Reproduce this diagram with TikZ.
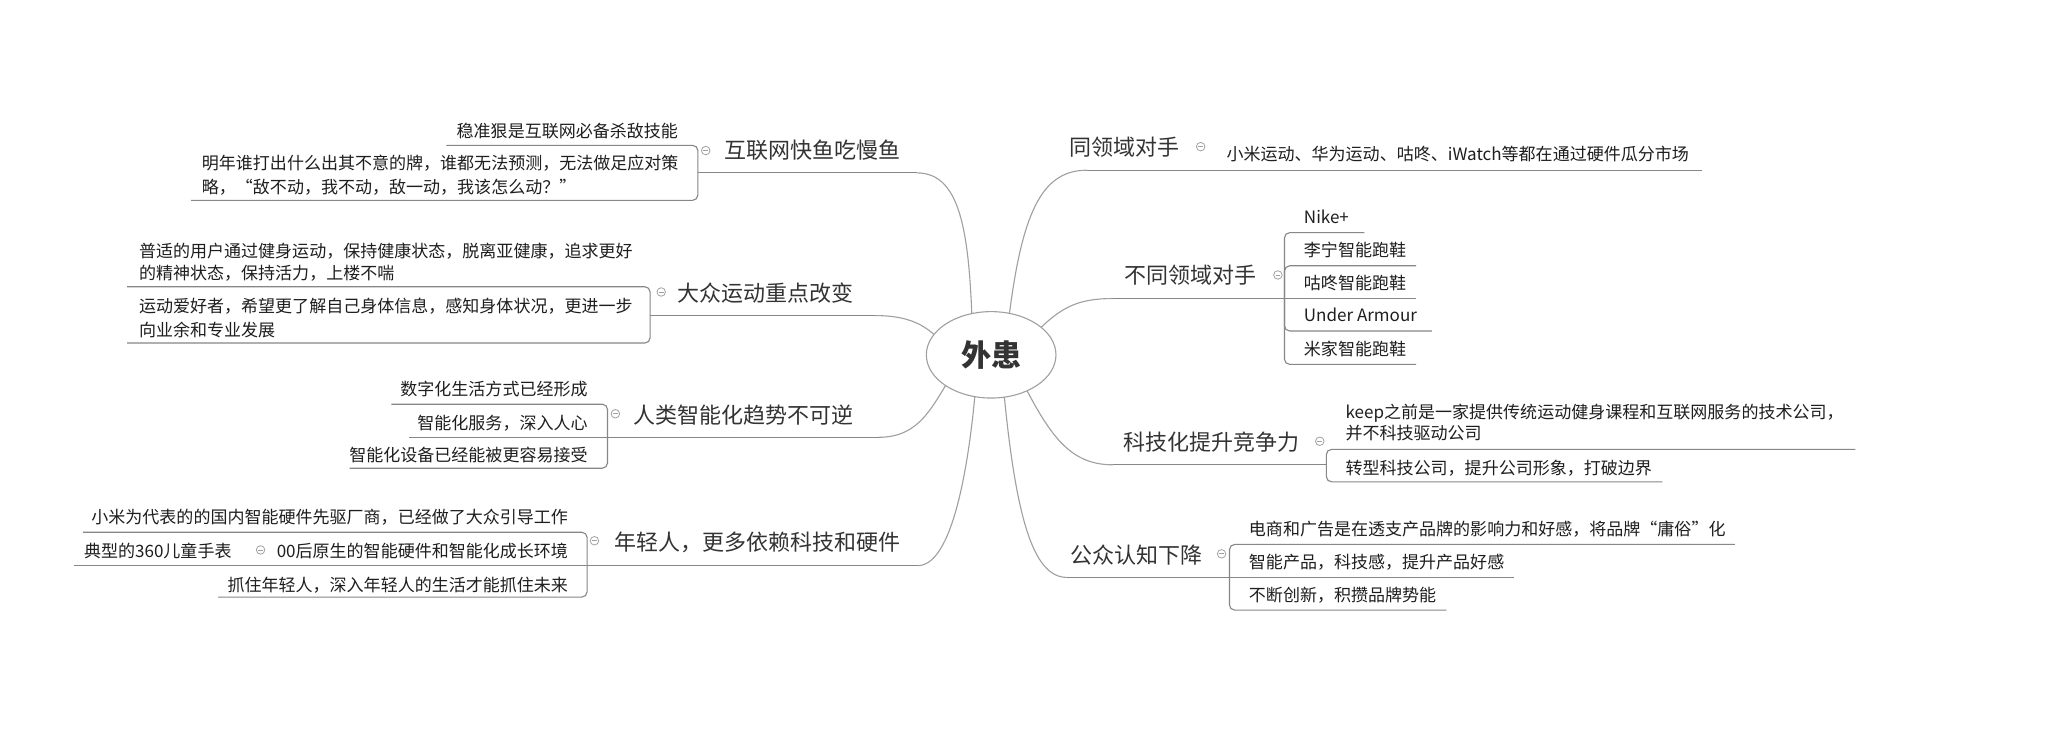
\documentclass[tikz,border=0pt]{standalone}
\usepackage{fontspec}
\setmainfont{Noto Sans CJK SC}
\usetikzlibrary{shapes.geometric}
\definecolor{linegray}{HTML}{878787}
\definecolor{curvegray}{HTML}{A0A0A0}
\definecolor{maintext}{HTML}{333333}
\definecolor{leaftext}{HTML}{1E1E1E}
\definecolor{foldgray}{HTML}{A0A0A0}
\tikzset{
 conn/.style={draw=linegray, line width=0.85pt},
 curv/.style={draw=curvegray, line width=0.85pt},
 brk/.style={conn, rounded corners=4pt},
 maintopic/.style={font=\fontsize{16.8}{20}\selectfont, text=maintext, inner sep=0pt, text height=14.8pt, text depth=2pt},
 leaf/.style={font=\fontsize{13}{16}\selectfont, text=leaftext, inner sep=0pt, text height=11.44pt, text depth=1.56pt},
 fold/.style={circle, draw=foldgray, line width=0.6pt, minimum size=6.5pt, inner sep=0pt, fill=white,
   path picture={\draw[foldgray, line width=0.6pt] ([xshift=-1.8pt]path picture bounding box.center) -- ([xshift=1.8pt]path picture bounding box.center);}},
 centre/.style={ellipse, draw=curvegray, line width=0.85pt, fill=white, minimum width=99pt, minimum height=66pt, inner sep=0pt,
   font=\fontsize{23}{27}\selectfont\bfseries, text=maintext},
}
\begin{document}
\begin{tikzpicture}[x=1pt,y=-1pt]
\useasboundingbox (0,0) rectangle (1568,571);
\fill[white] (0,0) rectangle (1568,571);

% ---- curve end points
\coordinate (r1) at (830,130);
\coordinate (r2) at (850,228);
\coordinate (r3) at (850,355);
\coordinate (r4) at (815,441);
\coordinate (l5) at (700,132);
\coordinate (l6) at (668,241);
\coordinate (l7) at (671,334);
\coordinate (l8) at (701,432);

% ---- curves from the central topic
\draw[curv] (768,265) .. controls (778,170) and (792,130) .. (r1);
\draw[curv] (780,265) .. controls (805,240) and (815,228) .. (r2);
\draw[curv] (775,280) .. controls (800,330) and (815,355) .. (r3);
\draw[curv] (765,280) .. controls (775,400) and (790,441) .. (r4);
\draw[curv] (743,265) .. controls (741,180) and (735,132) .. (l5);
\draw[curv] (725,268) .. controls (712,252) and (700,241) .. (l6);
\draw[curv] (728,285) .. controls (712,310) and (703,334) .. (l7);
\draw[curv] (746,285) .. controls (742,340) and (730,432) .. (l8);

\node[centre] (ctr) at (757,271) {外患};

% ================= right side =================
% 同领域对手
\node[maintopic] (t1) at (859,112) {同领域对手};
\node[fold] (f1) at (917,112) {};
\node[leaf, anchor=west] (t1a) at (936.6,118) {小米运动、华为运动、咕咚、iWatch等都在通过硬件瓜分市场};
\coordinate (r1e) at (1300,130);
\draw[conn] (r1) -- (r1e);

% 不同领域对手
\node[maintopic] (t2) at (909,210) {不同领域对手};
\node[fold] (f2) at (976,210) {};
\coordinate (b2) at (981,228);
\draw[conn] (r2) -- (b2);
\node[leaf, anchor=west] (t2a) at (995.7,165.5) {Nike+};
\node[leaf, anchor=west] (t2b) at (995.7,191) {李宁智能跑鞋};
\node[leaf, anchor=west] (t2c) at (995.7,216.4) {咕咚智能跑鞋};
\node[leaf, anchor=west] (t2d) at (995.7,240.6) {Under Armour};
\node[leaf, anchor=west] (t2e) at (995.7,266.8) {米家智能跑鞋};
\draw[brk] (b2) -- (981,177.7) -- (1042,177.7);
\draw[brk] (b2) -- (981,203) -- (1081.6,203);
\draw[conn] (b2) -- (1081.6,228);
\draw[brk] (b2) -- (981,252.8) -- (1093.5,252.8);
\draw[brk] (b2) -- (981,278.3) -- (1081.6,278.3);

% 科技化提升竞争力
\node[maintopic] (t3) at (925,338) {科技化提升竞争力};
\node[fold] (f3) at (1008,337) {};
\coordinate (b3) at (1013,355);
\draw[conn] (r3) -- (b3);
\node[leaf, anchor=west] (t3a1) at (1027.5,314.4) {keep之前是一家提供传统运动健身课程和互联网服务的技术公司，};
\node[leaf, anchor=west] (t3a2) at (1027.5,331) {并不科技驱动公司};
\node[leaf, anchor=west] (t3b) at (1027.5,357.7) {转型科技公司，提升公司形象，打破边界};
\draw[brk] (b3) -- (1013,343.2) -- (1417,343.2);
\draw[brk] (b3) -- (1013,368) -- (1269.6,368);

% 公众认知下降
\node[maintopic] (t4) at (868,424) {公众认知下降};
\node[fold] (f4) at (933,423) {};
\coordinate (b4) at (939,441);
\draw[conn] (r4) -- (b4);
\node[leaf, anchor=west] (t4a) at (953.7,404.3) {电商和广告是在透支产品牌的影响力和好感，将品牌“庸俗”化};
\node[leaf, anchor=west] (t4b) at (953.7,429) {智能产品，科技感，提升产品好感};
\node[leaf, anchor=west] (t4c) at (953.7,454.5) {不断创新，积攒品牌势能};
\draw[brk] (b4) -- (939,415.8) -- (1325,415.8);
\draw[conn] (b4) -- (1156.6,441);
\draw[brk] (b4) -- (939,466) -- (1104.7,466);

% ================= left side =================
% 互联网快鱼吃慢鱼
\node[maintopic] (t5) at (620.5,115) {互联网快鱼吃慢鱼};
\node[fold] (f5) at (539,115) {};
\coordinate (b5) at (533,132);
\draw[conn] (l5) -- (b5);
\node[leaf, anchor=east] (t5a) at (518,100) {稳准狠是互联网必备杀敌技能};
\node[leaf, anchor=west] (t5b1) at (154,124.7) {明年谁打出什么出其不意的牌，谁都无法预测，无法做足应对策};
\node[leaf, anchor=west] (t5b2) at (154,143) {略，“敌不动，我不动，敌一动，我该怎么动？”};
\draw[brk] (b5) -- (533,111) -- (341,111);
\draw[brk] (b5) -- (533,153) -- (146,153);

% 大众运动重点改变
\node[maintopic] (t6) at (584.5,224) {大众运动重点改变};
\node[fold] (f6) at (505,223) {};
\coordinate (b6) at (496.5,241);
\draw[conn] (l6) -- (b6);
\node[leaf, anchor=west] (t6a1) at (106,191.5) {普适的用户通过健身运动，保持健康状态，脱离亚健康，追求更好};
\node[leaf, anchor=west] (t6a2) at (106,208.7) {的精神状态，保持活力，上楼不喘};
\node[leaf, anchor=west] (t6b1) at (106,234) {运动爱好者，希望更了解自己身体信息，感知身体状况，更进一步};
\node[leaf, anchor=west] (t6b2) at (106,252) {向业余和专业发展};
\draw[brk] (b6) -- (496.5,219) -- (97,219);
\draw[brk] (b6) -- (496.5,262) -- (97,262);

% 人类智能化趋势不可逆
\node[maintopic] (t7) at (568,317) {人类智能化趋势不可逆};
\node[fold] (f7) at (470,316) {};
\coordinate (b7) at (464,334);
\draw[conn] (l7) -- (b7);
\node[leaf, anchor=east] (t7a) at (449,297) {数字化生活方式已经形成};
\node[leaf, anchor=east] (t7b) at (449,323) {智能化服务，深入人心};
\node[leaf, anchor=east] (t7c) at (449,347.6) {智能化设备已经能被更容易接受};
\draw[brk] (b7) -- (464,308.7) -- (299,308.7);
\draw[conn] (b7) -- (312,334);
\draw[brk] (b7) -- (464,357.6) -- (267,357.6);

% 年轻人，更多依赖科技和硬件
\node[maintopic] (t8) at (578.5,414) {年轻人，更多依赖科技和硬件};
\node[fold] (f8) at (454,413) {};
\coordinate (b8) at (448.4,432);
\draw[conn] (l8) -- (b8);
\node[leaf, anchor=east] (t8a) at (434,394.6) {小米为代表的的国内智能硬件先驱厂商，已经做了大众引导工作};
\node[leaf, anchor=east] (t8b) at (434,421) {00后原生的智能硬件和智能化成长环境};
\node[fold] (f9) at (199,420) {};
\node[leaf, anchor=west] (t8b1) at (64,421) {典型的360儿童手表};
\node[leaf, anchor=east] (t8c) at (434,447) {抓住年轻人，深入年轻人的生活才能抓住未来};
\coordinate (e8b) at (56.6,432);
\draw[brk] (b8) -- (448.4,406.5) -- (63.4,406.5);
\draw[conn] (b8) -- (e8b);
\draw[brk] (b8) -- (448.4,456) -- (166.6,456);
\end{tikzpicture}
\end{document}
